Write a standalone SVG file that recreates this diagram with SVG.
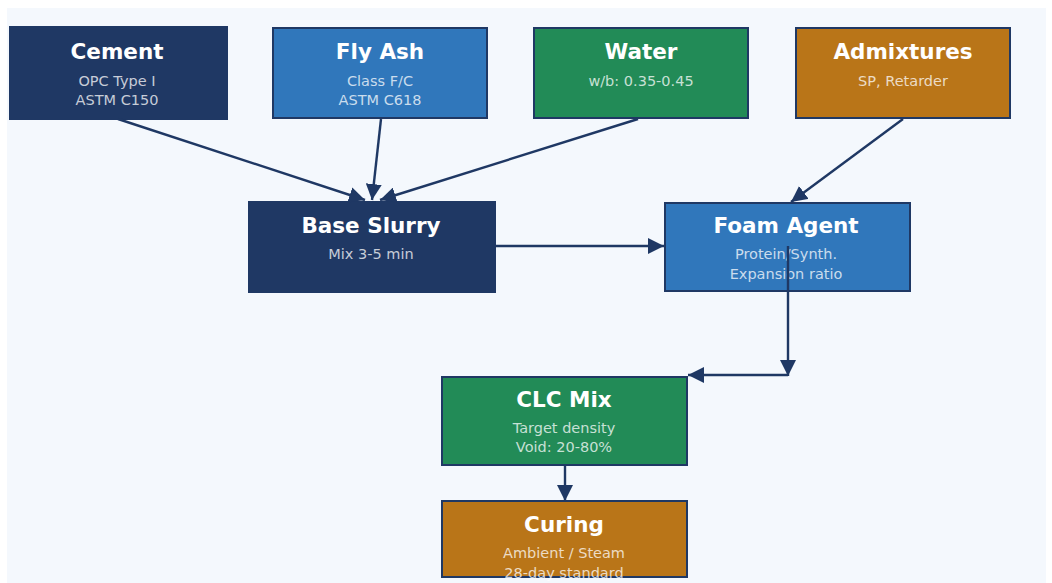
<svg xmlns="http://www.w3.org/2000/svg" width="1052" height="583" viewBox="0 0 1052 583">
<defs>
<marker id="ah" viewBox="0 0 16 16" refX="16" refY="8" markerWidth="16" markerHeight="16" markerUnits="userSpaceOnUse" orient="auto">
<path d="M0,0 L16,8 L0,16 Z" fill="#1f3864"/>
</marker>
<style>
.box{stroke:#1f3864;stroke-width:2}
.navy{fill:#1f3864}
.blue{fill:#3077bb}
.green{fill:#228b57}
.orange{fill:#b97518}
.t{font-family:"DejaVu Sans",sans-serif;font-weight:bold;font-size:21.5px;fill:#ffffff;text-anchor:middle}
.s{font-family:"DejaVu Sans",sans-serif;font-size:14.5px;fill:#ffffff;fill-opacity:0.75;text-anchor:middle}
.c{fill:none;stroke:#1f3864;stroke-width:2.4;marker-end:url(#ah)}
</style>
</defs>
<rect x="0" y="0" width="1052" height="583" fill="#ffffff"/>
<rect x="7" y="8" width="1039" height="575" fill="#f4f8fd"/>
<g id="cement"><rect class="box navy" x="10" y="27" width="217" height="92"/><text class="t" x="117" y="59">Cement</text><text class="s" x="117" y="86">OPC Type I</text><text class="s" x="117" y="105">ASTM C150</text></g>
<g id="flyash"><rect class="box blue" x="273" y="28" width="214" height="90"/><text class="t" x="380" y="59">Fly Ash</text><text class="s" x="380" y="86">Class F/C</text><text class="s" x="380" y="105">ASTM C618</text></g>
<g id="water"><rect class="box green" x="534" y="28" width="214" height="90"/><text class="t" x="641" y="59">Water</text><text class="s" x="641" y="86">w/b: 0.35-0.45</text></g>
<g id="admixtures"><rect class="box orange" x="796" y="28" width="214" height="90"/><text class="t" x="903" y="59">Admixtures</text><text class="s" x="903" y="86">SP, Retarder</text></g>
<g id="baseslurry"><rect class="box navy" x="249" y="202" width="246" height="90"/><text class="t" x="371" y="233">Base Slurry</text><text class="s" x="371" y="259">Mix 3-5 min</text></g>
<g id="foamagent"><rect class="box blue" x="665" y="203" width="245" height="88"/><text class="t" x="786" y="233">Foam Agent</text><text class="s" x="786" y="259">Protein/Synth.</text><text class="s" x="786" y="279">Expansion ratio</text></g>
<g id="clcmix"><rect class="box green" x="442" y="377" width="245" height="88"/><text class="t" x="564" y="407">CLC Mix</text><text class="s" x="564" y="433">Target density</text><text class="s" x="564" y="452">Void: 20-80%</text></g>
<g id="curing"><rect class="box orange" x="442" y="501" width="245" height="76"/><text class="t" x="564" y="532">Curing</text><text class="s" x="564" y="558">Ambient / Steam</text><text class="s" x="564" y="578">28-day standard</text></g>
<g id="connectors">
<path class="c" d="M118,119 L365,200"/>
<path class="c" d="M381,119 L372,200"/>
<path class="c" d="M638,119 L380,200"/>
<path class="c" d="M903,119 L791,202"/>
<path class="c" d="M495,246 L664,246"/>
<path class="c" d="M788,246 L788,376"/>
<path class="c" d="M788,375 L688,375"/>
<path class="c" d="M565,466 L565,501"/>
</g>
</svg>
